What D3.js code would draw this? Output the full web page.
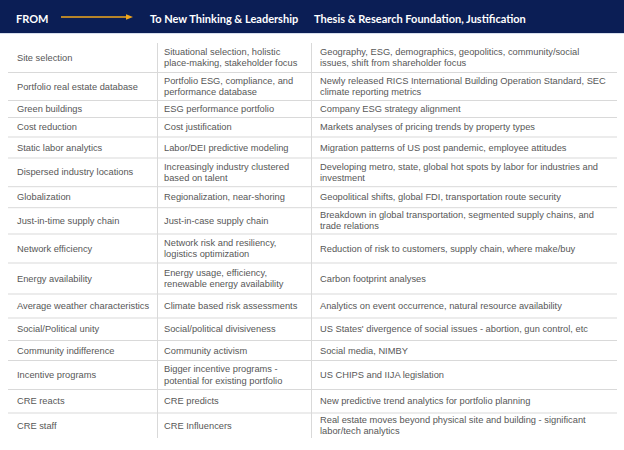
<!DOCTYPE html>
<html>
<head>
<meta charset="utf-8">
<script src="https://cdn.jsdelivr.net/npm/d3@7"></script>
<style>
  html, body { margin: 0; padding: 0; background: #ffffff; }
  svg { display: block; }
</style>
</head>
<body>
<svg id="chart" width="624" height="450"></svg>
<script>
// ---- data ----
const headers = ["FROM", "To New Thinking & Leadership", "Thesis & Research Foundation, Justification"];

const fromItems = [
  "Site selection",
  "Portfolio real estate database",
  "Green buildings",
  "Cost reduction",
  "Static labor analytics",
  "Dispersed industry locations",
  "Globalization",
  "Just-in-time supply chain",
  "Network efficiency",
  "Energy availability",
  "Average weather characteristics",
  "Social/Political unity",
  "Community indifference",
  "Incentive programs",
  "CRE reacts",
  "CRE staff"
];

const toItems = [
  "Situational selection, holistic\nplace-making, stakeholder focus",
  "Portfolio ESG, compliance, and\nperformance database",
  "ESG performance portfolio",
  "Cost justification",
  "Labor/DEI predictive modeling",
  "Increasingly industry clustered\nbased on talent",
  "Regionalization, near-shoring",
  "Just-in-case supply chain",
  "Network risk and resiliency,\nlogistics optimization",
  "Energy usage, efficiency,\nrenewable energy availability",
  "Climate based risk assessments",
  "Social/political divisiveness",
  "Community activism",
  "Bigger incentive programs -\npotential for existing portfolio",
  "CRE predicts",
  "CRE Influencers"
];

const thesisItems = [
  "Geography, ESG, demographics, geopolitics, community/social\nissues, shift from shareholder focus",
  "Newly released RICS International Building Operation Standard, SEC\nclimate reporting metrics",
  "Company ESG strategy alignment",
  "Markets analyses of pricing trends by property types",
  "Migration patterns of US post pandemic, employee attitudes",
  "Developing metro, state, global hot spots by labor for industries and\ninvestment",
  "Geopolitical shifts, global FDI, transportation route security",
  "Breakdown in global transportation, segmented supply chains, and\ntrade relations",
  "Reduction of risk to customers, supply chain, where make/buy",
  "Carbon footprint analyses",
  "Analytics on event occurrence, natural resource availability",
  "US States' divergence of social issues - abortion, gun control, etc",
  "Social media, NIMBY",
  "US CHIPS and IIJA legislation",
  "New predictive trend analytics for portfolio planning",
  "Real estate moves beyond physical site and building - significant\nlabor/tech analytics"
];

// ---- layout (not data) ----
const W = 624, H = 450;
const headerH = 33;
const tableTop = 43;
const tableLeft = 8, tableRight = 617;
const colEdges = [tableLeft, 157.5, 311.5, tableRight];
const textPad = [9, 6.5, 8.5];
const rowHeights = [29.5, 28, 17, 19.5, 21, 28.7, 21, 26.3, 29, 31, 24, 22.5, 20, 29, 23.5, 25];
const lineH = 11.2;

const rows = fromItems.map((f, i) => ({ cells: [f, toItems[i], thesisItems[i]] }));
let acc = tableTop;
rows.forEach((r, i) => { r.y0 = acc; acc += rowHeights[i]; r.y1 = acc; });
const tableBottom = acc;

const svg = d3.select("#chart");

// header band
svg.append("rect").attr("x", 0).attr("y", 0).attr("width", W).attr("height", headerH).attr("fill", "#0b1e55");
svg.append("line").attr("x1", 0).attr("x2", W).attr("y1", headerH + 0.5).attr("y2", headerH + 0.5)
  .attr("stroke", "#d6deec").attr("stroke-width", 1);

const headerX = [16, 150, 314];
const headerFont = "Lato, 'Open Sans', sans-serif";
svg.selectAll("text.hdr").data(headers).join("text")
  .attr("class", "hdr")
  .attr("x", (d, i) => headerX[i])
  .attr("y", 18)
  .attr("dominant-baseline", "central")
  .attr("fill", "#ffffff")
  .attr("font-family", headerFont)
  .attr("font-weight", 700)
  .attr("font-size", 11)
  .text(d => d);

// arrow
svg.append("line").attr("x1", 61).attr("x2", 128).attr("y1", 17).attr("y2", 17)
  .attr("stroke", "#f2a71b").attr("stroke-width", 1.4);
svg.append("path").attr("d", "M126,14.2 L133,17 L126,19.8 Z").attr("fill", "#f2a71b");

// row separators
svg.selectAll("line.rowsep").data(rows.slice(0, -1)).join("line")
  .attr("class", "rowsep")
  .attr("x1", tableLeft).attr("x2", tableRight)
  .attr("y1", d => d.y1).attr("y2", d => d.y1)
  .attr("stroke", "#d9d9d9").attr("stroke-width", 1);

// column separators
svg.selectAll("line.colsep").data(colEdges.slice(1, 3)).join("line")
  .attr("class", "colsep")
  .attr("x1", d => d).attr("x2", d => d)
  .attr("y1", tableTop).attr("y2", tableBottom)
  .attr("stroke", "#d9d9d9").attr("stroke-width", 1);

// cell text
const rowG = svg.selectAll("g.row").data(rows).join("g").attr("class", "row");
rowG.each(function (r) {
  const g = d3.select(this);
  r.cells.forEach((txt, ci) => {
    const lines = txt.split("\n");
    const cy = (r.y0 + r.y1) / 2;
    const startY = cy - (lines.length - 1) * lineH / 2;
    const t = g.append("text")
      .attr("font-family", "'Liberation Sans', Arial, sans-serif")
      .attr("font-size", 9.3)
      .attr("fill", "#575757");
    lines.forEach((ln, li) => {
      t.append("tspan")
        .attr("x", colEdges[ci] + textPad[ci])
        .attr("y", startY + li * lineH)
        .attr("dominant-baseline", "central")
        .text(ln);
    });
  });
});
</script>
</body>
</html>
